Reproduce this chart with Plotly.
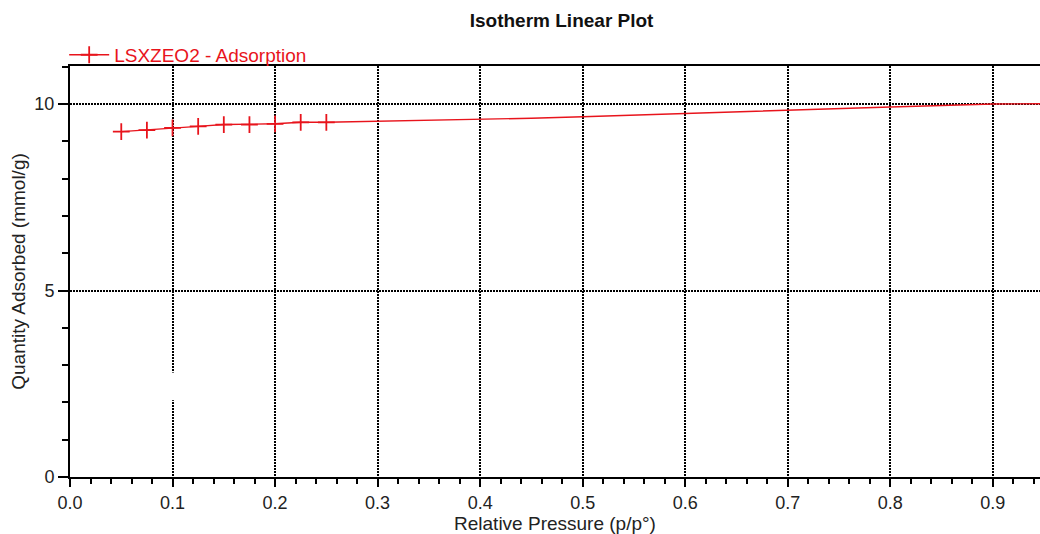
import plotly.graph_objects as go

# Data
pressure = [0.05, 0.075, 0.1, 0.125, 0.15, 0.175, 0.2, 0.225, 0.25,
            0.3, 0.35, 0.4, 0.45, 0.5, 0.55, 0.6, 0.65, 0.7, 0.75, 0.8, 0.85, 0.9, 0.95]
quantity = [9.26, 9.30, 9.36, 9.40, 9.45, 9.45, 9.47, 9.51, 9.51,
            9.54, 9.56, 9.58, 9.62, 9.66, 9.70, 9.75, 9.79, 9.84, 9.88, 9.92, 9.96, 10.00, 10.01]
n_marked = 9  # points drawn with "+" markers

x_ticks = [0.0, 0.1, 0.2, 0.3, 0.4, 0.5, 0.6, 0.7, 0.8, 0.9]
x_tick_labels = ["0.0", "0.1", "0.2", "0.3", "0.4", "0.5", "0.6", "0.7", "0.8", "0.9"]
y_ticks = [0, 5, 10]
y_tick_labels = ["0", "5", "10"]

RED = "#e8141c"
FONT = "Liberation Sans, Arial, sans-serif"
TXT = "#222222"

fig = go.Figure()
# continuation of the isotherm line (no markers)
fig.add_trace(go.Scatter(
    x=pressure[n_marked - 1:], y=quantity[n_marked - 1:], mode="lines",
    showlegend=False, line=dict(color=RED, width=1.4),
))
fig.add_trace(go.Scatter(
    x=pressure[:n_marked], y=quantity[:n_marked], mode="lines+markers",
    name="LSXZEO2 - Adsorption",
    line=dict(color=RED, width=1.4),
    marker=dict(symbol="cross-thin", color=RED, size=12,
                line=dict(color=RED, width=1.8)),
))

fig.add_shape(type="rect", xref="x", yref="y", x0=0.097, x1=0.103, y0=2.06, y1=2.8,
              fillcolor="white", line=dict(width=0), layer="above")

fig.update_layout(
    width=1040, height=534,
    margin=dict(l=70, r=0, t=66, b=57),
    paper_bgcolor="white", plot_bgcolor="white",
    font=dict(family=FONT, size=18, color=TXT),
    title=dict(text="<b>Isotherm Linear Plot</b>", x=0.54, xanchor="center",
               y=0.962, yanchor="middle", font=dict(family=FONT, size=19, color="#111111")),
    showlegend=True,
    legend=dict(x=-0.006, xanchor="left", y=1.027, yanchor="middle",
                font=dict(family=FONT, size=19, color=RED),
                bgcolor="rgba(0,0,0,0)", itemwidth=40,
                tracegroupgap=0),
    xaxis=dict(
        range=[0, 0.946], tickvals=x_ticks, ticktext=x_tick_labels,
        showline=True, linecolor="black", linewidth=2, mirror=True,
        ticks="outside", ticklen=8, tickwidth=2, tickcolor="black",
        minor=dict(dtick=0.02, ticks="outside", ticklen=5, tickwidth=1.5, tickcolor="black",
                   showgrid=False),
        showgrid=True, gridcolor="black", gridwidth=1.5, griddash="2px,1px",
        zeroline=False,
        tickfont=dict(size=18, color=TXT),
        title=dict(text="Relative Pressure (p/p°)", standoff=6,
                   font=dict(size=19, color=TXT)),
    ),
    yaxis=dict(
        range=[0, 11.02], tickvals=y_ticks, ticktext=y_tick_labels,
        showline=True, linecolor="black", linewidth=2, mirror=False,
        ticks="outside", ticklen=10, tickwidth=2, tickcolor="black",
        minor=dict(dtick=1, ticks="outside", ticklen=6, tickwidth=1.5, tickcolor="black",
                   showgrid=False),
        showgrid=True, gridcolor="black", gridwidth=1.5, griddash="2px,1px",
        zeroline=False,
        tickfont=dict(size=18, color=TXT),
        title=dict(text="Quantity Adsorbed (mmol/g)", standoff=4,
                   font=dict(size=19, color=TXT)),
    ),
)

fig.write_html("out.html")
